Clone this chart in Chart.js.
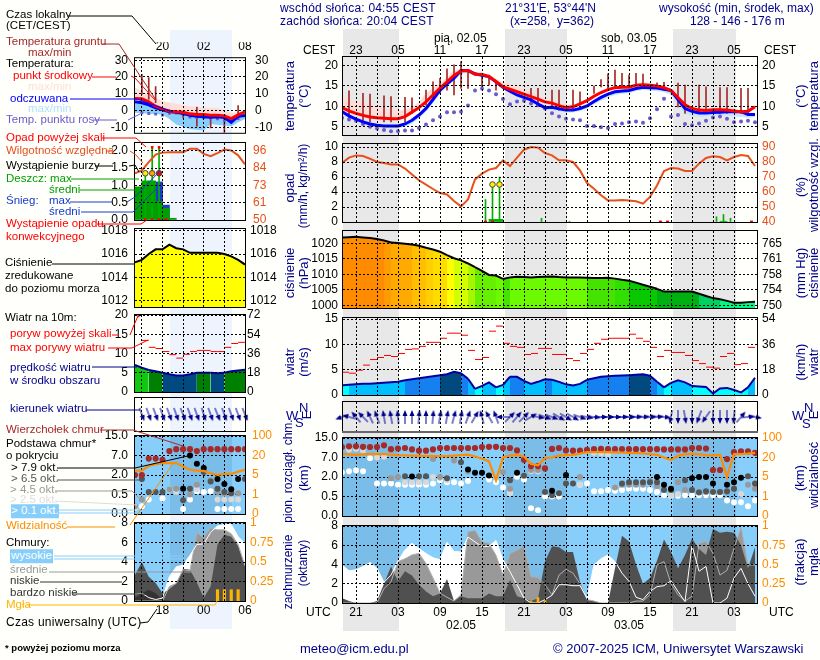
<!DOCTYPE html>
<html lang="pl">
<head>
<meta charset="utf-8">
<title>Meteorogram ICM</title>
<script src="https://cdn.jsdelivr.net/npm/chart.js@4"></script>
<style>
  html, body { margin: 0; padding: 0; background: #fffffc; }
  #page { position: relative; width: 820px; height: 660px; overflow: hidden; font-family: "Liberation Sans", Arial, sans-serif; }
  #page canvas { position: absolute; }
  #page svg { position: absolute; left: 0; top: 0; }
  .band { position: absolute; }
  .txt { position: absolute; white-space: pre; line-height: 1; transform: translateY(-50%); }
  .rot { position: absolute; white-space: pre; line-height: 1; color: #00008b; font-size: 13px; transform: translate(-50%, -50%) rotate(-90deg); }
</style>
</head>
<body>
<div id="page"></div>
<script>
// ---- main meteogram, hourly, first value is 19 UTC ----
const temperature = [9.7,8.9,8.3,7.8,7.4,7.2,7.1,7.0,7.0,7.5,8.6,9.7,11.1,12.8,14.5,16,17.6,18.7,18.8,17.9,17.8,17.3,16.1,14.8,14.2,13.6,13,12.4,11.8,11.1,10.8,10.2,9.7,9.9,10.6,11.4,12.5,13.4,14.1,14.6,14.7,14.7,15.2,15.3,15.2,15,14.6,13.9,12.2,10.4,9.5,9.1,9,9.2,9.2,9.1,8.9,8.7,8.8,9.9];
const temperatureMax = [12.4,11.8,11.1,10.9,10.7,10.2,9.5,9.2,9,9.2,9.9,11,13.2,14.5,15.7,17.2,18.8,19.2,19.2,18.4,18.3,17.9,16.8,15.9,15.5,15,14.4,13.8,13,12,11.5,11,10.5,10.4,11,11.8,12.9,13.8,14.5,15,15.1,15.2,15.6,15.9,15.7,15.4,15,14.3,12.6,10.9,10,9.5,9.4,9.6,9.6,9.4,9.3,9,9.1,10.1];
const feelsLike = [8.7,7.7,6.9,6.2,5.7,5.4,5.2,5.2,5.2,5.7,6.6,7.9,9.5,11.7,14,15.5,16.9,18.8,18.8,18,17.6,17.3,16,14.7,13.7,12.8,12.2,11.6,10.6,9.7,9.8,9.4,9.1,9.1,9.5,10.1,11.2,12.2,13,13.6,13.8,13.9,14.4,14.7,14.6,14.5,14.2,13.9,11.7,9.5,8.8,8.4,8.4,8.5,8.6,8.7,8.7,8.7,8,8];
const feelsLikeMin = [8,7.2,6.3,5.7,5.2,4.8,4.6,4.5,4.6,5,5.8,7,8.7,10.8,13.1,14.8,16.3,17.9,18.2,17.4,17.3,16.8,15.6,14.1,13.2,12.2,11.6,11,10.2,9.1,9.1,8.8,8.5,8.5,8.9,9.5,10.5,11.4,12.2,12.8,13.1,13.2,13.8,14,13.9,13.7,13.5,12.8,10.4,8.2,7.6,7.4,7.5,7.5,7.6,7.8,7.5,7.4,7.2,7.4];
const dewPoint = [7.2,6.8,6.5,5.7,5,4.6,4.2,3.9,3.9,4.1,4.1,4.7,5.6,6.6,7.5,8.6,8.6,8.7,10.2,13.9,14.4,13.9,13,11.8,10.5,11.2,11.4,10.7,10.3,9.5,8.3,7.5,7,6.8,6.6,5.2,5.2,4.9,4.7,5.7,5.8,6.1,6.3,6,7.1,9.3,11.9,7.5,7.9,5.7,5.4,5.8,6.5,7.3,7.5,7,6.1,6.3,6.5,6.1];
const groundRange = [[-1,6.9,13.8],[1,6.2,13.2],[2,6.2,13],[4,6.2,12.6],[5,6.2,12.4],[7,6.2,12.2],[8,8.3,12.1],[10,10.3,14],[11,11.6,16],[12,13.2,16.9],[13,14,19.2],[14,12.8,20.2],[15,14.4,21],[16,14.4,18.9],[18,14.4,18.1],[19,15.2,17.7],[20,14,15.7],[25,10.7,14.4],[26,10,14.4],[28,9.5,14],[29,9.1,14],[31,9.1,14],[32,10.3,13.6],[34,13.2,15],[35,14.8,16.6],[36,13.9,18],[37,14.7,18.9],[38,14.8,18.1],[39,14.7,17.7],[40,15.2,18.1],[41,15.2,17.9],[43,14.4,15.8],[44,14,15.9],[46,9.9,15.7],[47,8.3,15.2],[49,8.3,15.2],[50,8.3,14.8],[52,8.3,14.6],[53,8.3,14.6],[55,8.3,14.4],[56,8.3,14.4]];

const humidity = [79.3,82.9,84.4,84,82.2,80,79.3,78.4,78.4,75.6,71.6,67.8,64.9,62,59.3,58.4,54,50.4,55.1,68.4,72.2,74.9,76,81.1,77.3,82.9,88.2,90,89.6,86,84.4,81.1,81.1,80,74.4,66,62.2,57.8,54.4,54.4,54.7,54.4,53.8,52.2,56.7,64.4,74,76,75.6,74,74,78.9,82.7,83.8,83.3,81.1,83.3,84.7,84,77.3];
const rainMax = [[18.5,3],[19.5,5],[20.5,6],[26.5,0.5],[30.5,0.1],[51.5,0.7],[52.5,1],[53.5,0.5]];
const rainMean = [[19.5,0.35],[20.5,0.35],[52.5,0.1]];
const stormMarks = [[19.5,5],[20.5,5]];
const convectiveMarks = [[18.5,0],[19.5,0],[43.5,0],[44.5,0],[56.5,0]];

const pressure = [1021.9,1022,1022.1,1021.9,1021.7,1021.4,1020.9,1020.3,1020.1,1019.9,1019.6,1019.2,1018.6,1018,1017.3,1016.2,1015.2,1014.5,1013.5,1012.3,1011.1,1009.8,1009.6,1008.5,1009,1009.2,1009.1,1009,1009.1,1009.2,1009.3,1009.1,1009,1009,1009,1008.9,1008.8,1008.8,1008.9,1008.6,1008.2,1007.9,1007.3,1006.6,1006,1005.3,1004.4,1004.4,1004.4,1004.4,1004.4,1003.7,1003,1002.3,1001.9,1001.4,1000.8,1000.8,1001,1001.1];
const pressureStops = [[1021,'#ff8c00'],[1020.5,'#ff9a00'],[1019.5,'#ffaa00'],[1018.8,'#ffbe00'],[1017.8,'#ffd000'],[1016.7,'#ffdc00'],[1015,'#ffff00'],[1014,'#d4ff00'],[1012.5,'#a8f500'],[1009.3,'#66f000'],[1008.95,'#6cfa00'],[1008.5,'#44e400'],[1007.7,'#30e000'],[1004.9,'#08c800'],[1003.9,'#00b010'],[1001.8,'#00d060'],[0,'#00f880']];

const windSpeed = [1.9,2,2.1,2.2,2.2,2.3,2.4,2.5,2.6,2.9,3.1,3.3,3.5,3.7,3.9,4.1,4.6,4.3,3.2,1.2,1.8,2.5,1.5,2,3.6,3.6,2.8,2.2,2.6,3.1,3,2.6,2.1,1.9,2.2,3,3.3,3.6,3.7,3.8,3.85,3.9,4,4.1,3.8,2.6,1.5,2.4,2.9,2.5,1.8,1.7,1.6,0.3,1.3,1.4,1,0.5,1.5,3.4];
const gusts = [4.5,4.3,4.9,5.9,7,7.4,7.8,7.6,8.2,9,9.1,9.6,10.4,10.4,11.2,12.2,12.2,11.8,8.8,7,7.4,12.6,13.6,10.2,9.6,9.4,8,8.2,9.2,9.2,8,8,7.2,6.8,8.2,9,10.2,11,11.2,11.2,11.2,12,11.2,10.6,9.4,7.6,8.8,8.4,8.4,7.8,6.8,6.2,5.5,5.3,7.6,8.2,6,6.2,9.4];
const windTowards = [-110,-75,-40,-45,-25,-20,-10,-10,-5,0,0,5,0,5,10,10,15,10,20,30,-15,-30,-20,-90,45,40,45,60,100,110,110,120,120,120,110,100,95,90,90,90,88,88,85,85,85,85,95,190,180,170,180,200,215,180,180,180,185,40,85,100];

const cloudTop = [11.3,11.6,11.6,11.4,11.3,11.3,12,10.4,10.7,10.9,10.3,9.8,9.8,10.3,10.9,10.9,10.9,10.9,10.9,10.9,11.3,11.4,11.4,10.9,10.9,9.9,6.4,4.8,4.8,4.2,10.5,10.9,9.9,9.8,9.8,10.1,10.4,10.5,10.4,10.4,10.4,10.4,10.4,10.4,10.4,10.4,10.3,10.3,10.3,10.3,10.9,10.9,10.7,3.8,3.8,6.6,9.2,9.5,9.5,8.9];
const baseOver79 = [[8,2.1],[16,3.9],[17,3.1],[18,3.1],[19,2.4],[23,3.1],[28,0.95],[30,2.5],[43,2],[44,1.4],[45,1.1],[48,1.9],[49,2],[50,2],[51,1.5],[53,1.4],[54,1.6],[55,1.95]];
const baseOver65 = [[7,2.2],[9,2.2],[10,2.2],[13,1.9],[15,5.8],[22,1.75],[24,2.3],[27,0.85],[28,0.6],[29,0.75],[30,1.5],[31,1.5],[38,1.5],[39,1.6],[40,1.6],[41,1.6],[42,1.6],[43,1.6],[44,1],[45,1],[47,1.75],[48,1],[49,0.8],[50,0.9],[51,0.85],[52,0.85],[53,0.9],[54,1.1],[56,2.2],[57,1.5]];
const baseOver45 = [[5,1.9],[6,2],[11,6.6],[12,2],[14,6.2],[16,3.5],[21,3.3],[22,1.1],[25,3.8],[26,3.8],[32,2],[37,1.2],[38,1.4],[39,1.4],[40,1.4],[41,1.4],[42,1.7],[43,1.3],[44,1.1],[46,1.6],[47,1],[48,1],[49,0.85],[50,0.85],[52,0.85],[53,0.85],[54,1.1],[56,1.4],[57,1.1]];
const baseOver25 = [[-1,10.2],[0,10.5],[1,9.8],[3,7],[4,7.3],[7,1.6],[8,1.6],[9,1.6],[10,1.6],[11,2],[12,1.9],[13,1.75],[22,0.75],[25,3.5],[26,3.4],[32,1.4],[34,9],[35,8.7],[36,8.2],[45,0.6],[46,0.7],[55,0.7]];
const baseOver01 = [[-2,3.2],[-1,3.5],[0,3.7],[1,3.5],[2,6.8],[3,1.5],[4,1.5],[5,1.5],[6,1.4],[7,1.4],[8,1.4],[9,1.4],[10,1.4],[11,1.5],[12,1.75],[13,1.6],[14,1.6],[15,1.5],[16,1.7],[19,1.8],[20,1.6],[21,1.2],[22,0.75],[23,2.05],[24,1.8],[25,0.2],[26,0.15],[27,0.5],[28,0.5],[29,0.5],[32,1.4],[33,1.5],[34,0.9],[35,0.9],[36,1],[37,0.95],[38,1],[39,1.1],[40,1.1],[41,1.1],[42,1],[43,0.85],[44,0.6],[45,0.55],[46,0.55],[47,0.6],[48,0.6],[49,0.6],[50,0.6],[51,0.6],[52,0.6],[53,0.4],[54,0.35],[55,0.35],[56,0.25],[57,0.4]];
const visibility = [35,33,31,33,35,34,34,32,30,29,28,27,27,26,25.5,26,28,30,32,24,19,17,4.3,20,28,31,24,15,14,19.5,20,28,30,31,36,42,42,42,42,41,40,39,38,37,34,31,20,18,28,33,36,33,30,29,31,5,34,34,36,39];

const cloudHigh = [3.95,3.35,3.45,3.8,4.2,3.6,2.15,2.9,4.4,5.5,6.2,5.65,5.15,4.7,4.5,6.3,5.35,5.3,6.85,6.35,5.85,5.9,6.5,4.5,3.25,1.9,0.5,0,0,0.35,0.8,1.9,1.9,1.8,1.8,0.5,3.95,4.6,5,4.3,3.1,2.25,0.6,0.35,1.2,1.7,1.8,2.3,1.2,0.15,6,3.3,3.8,0,0,0.5,2.6,3.6,2,0.7];
const cloudMid = [0,0,0,0,0,0,1.5,2.2,4.3,4.6,5,5.15,4.1,2.6,1,0.6,0.2,0.85,7.4,7.55,6.35,6.2,4.95,2.9,5.15,5.5,5.9,2.75,2.65,1.9,0.85,2.9,3.5,3.1,2,0.35,0.2,0,0,0,0,0,0.2,0.2,0.85,3.95,4.3,2,0.85,0.2,0.7,6.2,6.4,5.15,2.9,3.4,5.65,7.9,3.95,3.95];
const cloudLow = [0.5,0.2,0,0,0,0.2,2,3.8,2.25,3.3,2.85,1.9,1.2,0.7,1,2.5,0.2,0.7,0.5,0.5,0.5,1,0.7,0.7,2.4,0.7,0.5,0.2,0.5,4.3,5.9,5.8,5.3,5.3,2.2,0.35,0.2,0,0,3.6,7,6.4,4,2,2.6,4.4,6.6,5.3,3.6,5,6.7,5.6,5,7.7,7.3,7.4,7.3,6,3.6,5.8];
const fogFraction = [[25,0.02],[26,0.07],[27,0.03]];

// ---- small panel with the analysis, hourly from 14 UTC ----
const temperatureLeft = [7.2,7,5.2,2.6,1,-0.4,-0.8,-1,-2,-2.4,-2.4,-2.8,-2.8,-3.2,-4.8,-2.6,-0.8];
const temperatureMaxLeft = [13.6,11.6,9.6,7.6,5.6,4.8,4,3.2,2.6,2.1,1.6,1.6,1.6,0.2,-1.4,-1,-0.4];
const feelsLikeLeft = [5.2,4.6,3.4,1.6,0.4,-0.8,-1,-1.8,-2.8,-3.4,-3.8,-4,-3.8,-4.2,-7,-3.4,-3];
const feelsLikeMinLeft = [-1.4,-1.7,-2,-2.2,-2.4,-5,-8.4,-9.6,-11,-11.5,-12,-8,-8.5,-9,-9.4,-7,-5];
const dewPointLeft = [[15,-1.4],[16,-1.8],[17,-2.2],[18,-2.8],[19,-1],[20,-1.6],[21,-2.6],[22,-4],[23,-4.2],[24,-4.2],[25,-4.4],[26,-5],[27,-5.8],[28,-5.8],[29,-4.6]];
const groundRangeLeft = [[15,9.6,21.6],[16,6.6,19.6],[17,4.6,14.2],[19,-2.4,0.6],[21,-4.4,-0.4],[23,-9.4,2],[25,-10.4,-2.4],[27,-13.4,-2.4],[29,-5.4,3]];
const humidityLeft = [81,83,88.5,93.5,94.8,95,95,95,97.3,97.3,94,92.5,94.5,96.8,96.2,93,87];
const rainMeanLeft = [[14.5,0.96],[15.5,1.13],[16.5,1.13],[17.5,0.53],[18.5,0.34],[19.5,0.05]];
const snowMeanLeft = [[17.5,1.1],[18.5,0.43]];
const rainMaxLeft = [[15.5,1.35],[16.5,2.1],[17.5,2.1]];
const stormLeft = [[15.5,1.35],[16.5,1.35],[17.5,1.35]];
const overScaleLeft = [[16.5,2.1],[17.5,2.1]];
const convectiveLeft = [[15.5,0.02],[16.5,0.02],[17.5,0.02],[18.5,0.02]];
const pressureLeft = [1015.3,1015.5,1016,1016.4,1016.4,1016.8,1016.5,1016.4,1016.1,1016.1,1016.1,1016.1,1016.1,1016,1015.8,1015.5,1015.1];
const windSpeedLeft = [7,6.3,5.7,5.4,5,4.6,4.3,4.3,4.6,5,5,4.98,4.88,5,5.4,5.6,5.8];
const gustsLeft = [null,13.4,11.6,11.3,10.5,9.7,8.8,9.8,10.5,10.8,10.8,10.5,10.5,11.6,12.6,12.9];
const gustOverScaleLeft = [[14.5,19.7]];
const windTowardsLeft = [160,160,160,160,160,160,158,160,160,162,160,158,160,160,160,158];
const cloudTopLeft = [2,2,6.2,6.2,5.9,8.8,9.6,9.6,9.6,8.8,9.6,9.6,9.6,9.6,9.6,9.6,9.6];
const baseOver79Left = [[21,0.95],[22,7],[23,4.9],[24,3.8],[26,1.7],[27,1.3],[28,0.9],[29,1.7]];
const baseOver65Left = [[15,1.7],[16,0.7],[17,0.7],[18,0.7],[21,0.35],[22,0.95],[24,2.8],[25,1.5],[26,0.95],[27,0.7],[28,0.6],[30,1.7]];
const baseOver45Left = [[14,0.2],[15,0.37],[19,0.9],[20,0.95],[22,0.5],[23,1.25],[25,1.6],[26,0.7],[27,0.6],[29,0.6]];
const baseOver25Left = [[14,0.15],[20,0.7],[23,0.9],[26,0.37],[27,0.37],[28,0.37],[29,0.37]];
const baseOver01Left = [[15,0.2],[16,0.37],[18,0.4],[19,0.9],[21,0.13],[22,0.37],[23,0.75],[24,0.7],[25,0.75],[26,0.13],[27,0.13],[28,0.13],[29,0.13]];
const visibilityLeft = [8.4,8.4,12,13.4,14.2,14.2,14.2,11.6,9,8.4,8.2,6.3,5,5.8,5.8,7.6,9];
const cloudHighLeft = [0.7,0.8,0.35,0.15,0.3,2.5,3.5,3.7,4.7,5.8,5.85,7.05,7.7,7.85,7.85,6.6,5.9];
const cloudMidLeft = [0,0,0,0,0,1.5,1.8,3.2,3.1,7,6.5,7.5,7.3,7.3,6.9,5.8,3.6];
const cloudLowLeft = [2.7,4,2.5,1.85,0.8,1.2,1.8,3.3,3.2,1.9,0.3,1.5,5.8,6.8,6.6,5.6,3.55];
const cloudVeryLowLeft = [0.3,0.8,1.15,0.8,0.1,0,0,0,0,0,0,0,0,0,0,0,0];
const fogLeft = [[26,0.145],[27,0.145],[28,0.145],[29,0.145]];

// ---- axes ----
const mainHours = temperature.map((_, i) => i - 2);
const mainIntervals = gusts.map((_, i) => i - 1.5);
const leftHours = temperatureLeft.map((_, i) => i + 14);
const leftIntervals = gustsLeft.map((_, i) => i + 14.5);
const windArrowHoursLeft = windTowardsLeft.map((_, i) => i + 15);
const mainGridHours = [0,3,6,9,12,15,18,21,24,27,30,33,36,39,42,45,48,51,54];
const mainLabelHours = [0,6,12,18,24,30,36,42,48,54];
const cestLabels = ['23','05','11','17','23','05','11','17','23','05'];
const utcLabels = ['21','03','09','15','21','03','09','15','21','03'];
const leftGridHours = [15,18,21,24,27,30];
const leftLabelHours = [18,24,30];
const leftLocalLabels = ['20','02','08'];
const leftUtcLabels = ['18','00','06'];
const mainNights = [[-2,6.1],[21.3,30.1],[45.3,54.3]];
const leftNights = [[19.1,28.1]];

const heightStops = [0,0.5,2,7,15];
const visibilityStops = [0,1,5,20,100];
const heightLevels = [0,1,2,3,4];
const heightLabels = ['0.0','0.5','2.0','7.0','15.0'];
const visibilityLabels = ['0','1','5','20','100'];
const oktaTicks = [0,2,4,6,8];
const oktaLabels = ['0','2','4','6','8'];
const fogLabels = ['0','0.25','0.5','0.75','1'];

const NAVY = '#00008b';
const HUMID = '#e8501e';
const ORANGE = '#ff8c00';
const page = document.getElementById('page');
const FONT = '"Liberation Sans", Arial, sans-serif';

// axis positions for log-like scales used by the cloud height panel
function toLevel(v, stops) {
  for (let i = 1; i < stops.length; i++) {
    if (v <= stops[i]) return i - 1 + (v - stops[i - 1]) / (stops[i] - stops[i - 1]);
  }
  return stops.length - 1;
}
const pts = (hours, values) => values.map((v, i) => ({ x: hours[i], y: v }));
const pairs = list => list.map(p => ({ x: p[0], y: p[1] }));
const spans = list => list.map(p => ({ x: p[0], y: [p[1], p[2]] }));
const heightPairs = list => list.map(p => ({ x: p[0], y: toLevel(p[1], heightStops) }));
const zeroBars = list => list.map(p => ({ x: p[0], y: [0, p[1]] }));

function line(data, color, width, extra) {
  return Object.assign({ type: 'line', data, borderColor: color, borderWidth: width, pointRadius: 0, tension: 0, fill: false }, extra);
}
function area(data, color, fill, extra) {
  return Object.assign({ type: 'line', data, borderWidth: 0, backgroundColor: color, pointRadius: 0, tension: 0, fill }, extra);
}
function dots(data, color, radius, extra) {
  return Object.assign({ type: 'line', data, showLine: false, pointRadius: radius, pointBackgroundColor: color, pointBorderWidth: 0, pointStyle: 'circle' }, extra);
}
function bars(data, color, thickness) {
  return { type: 'bar', data, backgroundColor: color, barThickness: thickness, borderWidth: 0, grouped: false };
}
function pressureColor(v) {
  return pressureStops.find(s => v >= s[0])[1];
}
function windColor(v) {
  if (v < 2) return '#00ffff';
  if (v < 3) return '#00bfff';
  if (v < 3.9) return '#1580f0';
  if (v < 4.95) return '#004a80';
  if (v < 6) return '#008000';
  return '#10c810';
}
const meanOf = c => (c.p0.parsed.y + c.p1.parsed.y) / 2;

const panelFrame = {
  id: 'panelFrame',
  beforeDraw(chart, args, opts) {
    const { ctx, chartArea: a, scales } = chart;
    if (!opts.sky) return;
    ctx.save();
    ctx.fillStyle = opts.sky;
    ctx.fillRect(a.left, a.top, a.width, a.height);
    ctx.fillStyle = opts.shade;
    for (const n of opts.nights) {
      const x0 = Math.max(scales.x.getPixelForValue(n[0]), a.left);
      const x1 = Math.min(scales.x.getPixelForValue(n[1]), a.right);
      ctx.fillRect(x0, a.top, x1 - x0, a.height);
    }
    ctx.restore();
  },
  afterDraw(chart, args, opts) {
    const { ctx, chartArea: a } = chart;
    ctx.save();
    ctx.strokeStyle = '#000';
    ctx.lineWidth = 1;
    ctx.strokeRect(a.left - 0.5, a.top - 0.5, a.width + 1, a.height + 1);
    if (opts.foot) {
      ctx.fillStyle = opts.foot;
      ctx.fillRect(a.left - 1, a.bottom - 1, a.width + 2, 2);
    }
    ctx.restore();
  }
};
Chart.register(panelFrame);

const fixedTicks = values => ax => { ax.ticks = values.map(value => ({ value })); };

function panel(o) {
  const left = o.x0 - 45, right = o.x1 + 50, top = o.y0 - 16, bottom = o.y1 + 16;
  const canvas = document.createElement('canvas');
  canvas.width = right - left;
  canvas.height = bottom - top;
  canvas.style.left = left + 'px';
  canvas.style.top = top + 'px';
  page.appendChild(canvas);

  o.datasets.forEach((d, i) => { d.order = o.datasets.length - i; });
  const xLabels = o.xLabels;
  const gridZ = o.gridZ ?? 1;
  new Chart(canvas.getContext('2d'), {
    type: 'line',
    data: { datasets: o.datasets },
    options: {
      responsive: false,
      animation: false,
      events: [],
      devicePixelRatio: 1,
      layout: { padding: { left: 0, right: 0, top: o.xPos === 'top' ? 0 : 16, bottom: o.xPos === 'bottom' ? 0 : 16 } },
      plugins: {
        legend: { display: false },
        tooltip: { enabled: false },
        panelFrame: { sky: o.sky, shade: 'rgba(0,20,60,0.09)', nights: o.nights, foot: o.foot }
      },
      scales: {
        x: {
          type: 'linear', min: o.xMin, max: o.xMax, offset: false,
          position: o.xPos || 'bottom',
          grid: { color: '#000', z: gridZ, drawTicks: false, offset: false },
          border: { display: false, dash: [2, 2] },
          ticks: {
            display: !!xLabels, autoSkip: false, maxRotation: 0, padding: o.xPad ?? 2,
            color: '#000', font: { family: FONT, size: 12 },
            callback: v => {
              const i = o.xLabelHours ? o.xLabelHours.indexOf(v) : -1;
              return i < 0 ? '' : xLabels[i];
            }
          },
          afterBuildTicks: fixedTicks(o.xGrid),
          afterFit: ax => { ax.height = xLabels ? 16 : 0; }
        },
        y: {
          position: 'left', min: o.yMin, max: o.yMax,
          grid: { color: '#000', z: gridZ, drawTicks: false },
          border: { display: false, dash: [2, 2] },
          ticks: {
            autoSkip: false, padding: o.leftPad || 5, color: o.leftColor || '#000',
            font: { family: FONT, size: 12 }, callback: (v, i) => o.yLabels[i]
          },
          afterBuildTicks: fixedTicks(o.yTicks),
          afterFit: ax => { ax.width = 45; }
        },
        y2: {
          position: 'right', min: o.y2Min, max: o.y2Max,
          grid: { display: false, drawTicks: false },
          border: { display: false },
          ticks: {
            autoSkip: false, padding: o.rightPad || 5, color: o.rightColor || '#000',
            font: { family: FONT, size: 12 }, callback: (v, i) => o.y2Labels[i]
          },
          afterBuildTicks: fixedTicks(o.y2Ticks),
          afterFit: ax => { ax.width = 50; }
        }
      }
    }
  });
}

// small arrow sprite, rotated by the point options
function arrowSprite() {
  const c = document.createElement('canvas');
  c.width = 18; c.height = 18;
  const g = c.getContext('2d');
  g.strokeStyle = '#0000a0';
  g.fillStyle = NAVY;
  g.lineWidth = 1;
  g.beginPath(); g.moveTo(9, 16); g.lineTo(9, 4); g.stroke();
  g.beginPath(); g.moveTo(9, 2); g.lineTo(11.5, 8); g.lineTo(6.5, 8); g.closePath(); g.fill();
  return c;
}
const arrow = arrowSprite();

// ---- page furniture under the charts ----
function band(x0, x1, y0, y1, color) {
  const d = document.createElement('div');
  d.className = 'band';
  d.style.cssText = `left:${x0}px;top:${y0}px;width:${x1 - x0}px;height:${y1 - y0}px;background:${color}`;
  page.appendChild(d);
}
band(343, 399, 29, 631, '#e8e8e8');
band(505, 567, 29, 631, '#e8e8e8');
band(673, 736, 29, 631, '#e8e8e8');
band(170, 232, 30, 629, '#eef4fd');

// ---- main column ----
const M = { x0: 343, x1: 757, xMin: -13 / 7, xMax: 401 / 7, xGrid: mainGridHours, nights: mainNights };
const L = { x0: 135, x1: 245, xMin: 14, xMax: 30, xGrid: leftGridHours, nights: leftNights };

function temperaturePanel(base, y0, y1, yMin, yMax, ticks, labels, series, paleBlue, pad) {
  const tempPts = pts(series.hours, series.temp);
  panel(Object.assign({}, base, {
    y0, y1, yMin, yMax, yTicks: ticks, yLabels: labels,
    y2Min: yMin, y2Max: yMax, y2Ticks: ticks, y2Labels: labels, leftPad: pad[0], rightPad: pad[1],
    xPos: 'top', xLabels: series.xLabels, xLabelHours: series.xLabelHours, xPad: series.xPad,
    datasets: [
      area(pts(series.hours, series.max), '#ffdcd8', 5),
      area(pts(series.hours, series.min), paleBlue, 4),
      bars(spans(series.ground), '#a52a2a', series.groundWidth),
      dots(pairs(series.dew), '#6a5acd', series.dewR, { pointStyle: series.dewStyle }),
      line(pts(series.hours, series.feels), '#0000ff', 3),
      line(tempPts, '#ff0000', 3)
    ]
  }));
}

temperaturePanel(M, 57, 135, 3, 22.1, [5,10,15,20], ['5','10','15','20'], {
  hours: mainHours, temp: temperature, max: temperatureMax, feels: feelsLike, min: feelsLikeMin,
  ground: groundRange, dew: dewPoint.map((v, i) => [mainHours[i], v]), dewStyle: 'circle', dewR: 2, groundWidth: 1,
  xLabels: cestLabels, xLabelHours: mainLabelHours, xPad: -1
}, '#c6e6ff', [5, 5]);

panel(Object.assign({}, M, {
  y0: 144, y1: 222, yMin: 0, yMax: 10.4, yTicks: [0,2,4,6,8,10], yLabels: ['0','2','4','6','8','10'],
  y2Min: 40, y2Max: 92, y2Ticks: [40,50,60,70,80,90], y2Labels: ['40','50','60','70','80','90'], rightColor: HUMID,
  datasets: [
    bars(zeroBars(rainMean), '#00b000', 7),
    bars(zeroBars(rainMax), '#00b000', 1),
    line(pts(mainHours, humidity), HUMID, 2, { yAxisID: 'y2' }),
    dots(pairs(stormMarks), '#ffee00', 2.8, { pointBorderWidth: 1, pointBorderColor: '#444' }),
    dots(pairs(convectiveMarks), '#e00000', 2, { pointStyle: 'rect' })
  ]
}));

panel(Object.assign({}, M, {
  y0: 231, y1: 308, yMin: 999.1, yMax: 1024, yTicks: [1000,1005,1010,1015,1020], yLabels: ['1000','1005','1010','1015','1020'],
  y2Min: 999.1, y2Max: 1024, y2Ticks: [1000,1005,1010,1015,1020], y2Labels: ['750','754','758','761','765'],
  datasets: [
    line(pts(mainHours, pressure), '#000', 2, {
      fill: 'start', backgroundColor: '#ffff00',
      segment: { backgroundColor: c => pressureColor(meanOf(c)) }
    })
  ]
}));

panel(Object.assign({}, M, {
  y0: 318, y1: 395, yMin: 0, yMax: 15.2, yTicks: [0,5,10,15], yLabels: ['0','5','10','15'],
  y2Min: 0, y2Max: 15.2, y2Ticks: [0,5,10,15], y2Labels: ['0','18','36','54'],
  datasets: [
    line(pts(mainHours, windSpeed), '#0000a0', 2, {
      fill: 'start', backgroundColor: '#00bfff',
      segment: { backgroundColor: c => windColor(meanOf(c)) }
    }),
    dots(pts(mainIntervals, gusts), '#ff0000', 3.5, { pointStyle: 'line', pointBorderWidth: 1, pointBorderColor: '#ff0000' })
  ]
}));

panel(Object.assign({}, M, {
  y0: 402, y1: 432, yMin: -1, yMax: 1, yTicks: [], yLabels: [], y2Min: -1, y2Max: 1, y2Ticks: [], y2Labels: [], foot: '#666',
  datasets: [
    dots(mainHours.map(h => ({ x: h, y: 0 })), NAVY, 3, { pointStyle: arrow, pointRotation: windTowards, clip: false })
  ]
}));

function heightPanel(base, y0, y1, s, pad) {
  panel(Object.assign({}, base, {
    y0, y1, yMin: 0, yMax: 4, yTicks: heightLevels, yLabels: heightLabels,
    y2Min: 0, y2Max: 4, y2Ticks: heightLevels, y2Labels: visibilityLabels, rightColor: ORANGE,
    leftPad: pad[0], rightPad: pad[1], sky: '#87cefa', gridZ: 0,
    datasets: [
      dots(heightPairs(s.over01), '#ffffff', 3),
      dots(heightPairs(s.over25), '#d8d8d8', 3),
      dots(heightPairs(s.over45), '#999999', 3),
      dots(heightPairs(s.over65), '#555555', 3),
      dots(heightPairs(s.over79), '#000000', 3),
      dots(pts(s.hours, s.tops.map(v => toLevel(v, heightStops))), '#a52a2a', 3.1),
      line(pts(s.hours, s.vis.map(v => toLevel(v, visibilityStops))), ORANGE, 2.2)
    ]
  }));
}
heightPanel(M, 438, 516, {
  hours: mainHours, tops: cloudTop, vis: visibility,
  over79: baseOver79, over65: baseOver65, over45: baseOver45, over25: baseOver25, over01: baseOver01
}, [5, 5]);

function cloudPanel(base, y0, y1, s, pad) {
  const sets = [
    area(pts(s.hours, s.high), '#ffffff', 'start'),
    area(pts(s.hours, s.mid), '#999999', 'start'),
    area(pts(s.hours, s.low), '#505050', 'start')
  ];
  if (s.veryLow) sets.push(area(pts(s.hours, s.veryLow), '#333333', 'start'));
  sets.push(line(pts(s.hours, s.mid), '#b0b0b0', 1));
  sets.push(line(pts(s.hours, s.high), '#ffffff', 1));
  sets.push(bars(zeroBars(s.fog), '#ffb400', s.fogWidth));
  sets[sets.length - 1].yAxisID = 'y2';
  panel(Object.assign({}, base, {
    y0, y1, yMin: 0, yMax: 8, yTicks: oktaTicks, yLabels: oktaLabels,
    y2Min: 0, y2Max: 1, y2Ticks: [0,0.25,0.5,0.75,1], y2Labels: fogLabels, rightColor: ORANGE,
    leftPad: pad[0], rightPad: pad[1], sky: '#87cefa',
    xPos: 'bottom', xLabels: s.xLabels, xLabelHours: s.xLabelHours, xPad: 2,
    datasets: sets
  }));
}
cloudPanel(M, 526, 603, {
  hours: mainHours, high: cloudHigh, mid: cloudMid, low: cloudLow, fog: fogFraction, fogWidth: 2,
  xLabels: utcLabels, xLabelHours: mainLabelHours
}, [5, 5]);

// ---- left column ----
temperaturePanel(L, 57, 134, -13.3, 31.2, [-10,0,10,20,30], ['-10','0','10','20','30'], {
  hours: leftHours, temp: temperatureLeft, max: temperatureMaxLeft, feels: feelsLikeLeft, min: feelsLikeMinLeft,
  ground: groundRangeLeft, dew: dewPointLeft, dewStyle: 'rect', dewR: 2, groundWidth: 1,
  xLabels: leftLocalLabels, xLabelHours: leftLabelHours, xPad: 4
}, '#87cefa', [7, 10]);

panel(Object.assign({}, L, {
  y0: 143, y1: 220, yMin: 0, yMax: 2.225, yTicks: [0,0.5,1,1.5,2], yLabels: ['0.0','0.5','1.0','1.5','2.0'],
  y2Min: 50, y2Max: 101.2, y2Ticks: [50,61.5,73,84.5,96], y2Labels: ['50','61','73','84','96'], rightColor: HUMID,
  leftPad: 7, rightPad: 8,
  datasets: [
    bars(zeroBars(snowMeanLeft), '#1a3cc8', 7),
    bars(zeroBars(rainMeanLeft), '#00a000', 7),
    bars(zeroBars(rainMaxLeft), '#00b000', 1),
    line(pts(leftHours, humidityLeft), HUMID, 2, { yAxisID: 'y2' }),
    dots(pairs(stormLeft), ['#ffee00','#ffa500','#ff0000'], 2.8, { pointBorderWidth: 1, pointBorderColor: '#444' }),
    dots(pairs(overScaleLeft), '#ff0000', 1.8, { pointStyle: 'rect' }),
    dots(pairs(convectiveLeft), '#ff0000', 1.8, { pointStyle: 'rect' })
  ]
}));

panel(Object.assign({}, L, {
  y0: 229, y1: 307, yMin: 1011.47, yMax: 1018.14, yTicks: [1012,1014,1016,1018], yLabels: ['1012','1014','1016','1018'],
  y2Min: 1011.47, y2Max: 1018.14, y2Ticks: [1012,1014,1016,1018], y2Labels: ['1012','1014','1016','1018'], leftPad: 7, rightPad: 5,
  datasets: [
    line(pts(leftHours, pressureLeft), '#000', 2, {
      fill: 'start', backgroundColor: '#ffff00',
      segment: { backgroundColor: c => pressureColor(meanOf(c)) }
    })
  ]
}));

panel(Object.assign({}, L, {
  y0: 315, y1: 392, yMin: 0, yMax: 20, yTicks: [0,5,10,15,20], yLabels: ['0','5','10','15','20'],
  y2Min: 0, y2Max: 20, y2Ticks: [0,5,10,15,20], y2Labels: ['0','18','36','54','72'], leftPad: 7, rightPad: 2,
  datasets: [
    line(pts(leftHours, windSpeedLeft), '#0000a0', 2, {
      fill: 'start', backgroundColor: '#008000',
      segment: { backgroundColor: c => windColor(meanOf(c)) }
    }),
    dots(pts(leftIntervals, gustsLeft), '#ff0000', 3.4, { pointStyle: 'line', pointBorderWidth: 1, pointBorderColor: '#ff0000' }),
    dots(pairs(gustOverScaleLeft), '#ff0000', 1.5, { pointStyle: 'rect' })
  ]
}));

panel(Object.assign({}, L, {
  y0: 398, y1: 431, yMin: -1, yMax: 1, yTicks: [], yLabels: [], y2Min: -1, y2Max: 1, y2Ticks: [], y2Labels: [],
  datasets: [
    dots(windArrowHoursLeft.map(h => ({ x: h, y: 0 })), NAVY, 3, { pointStyle: arrow, pointRotation: windTowardsLeft, clip: false })
  ]
}));

heightPanel(L, 436, 514, {
  hours: leftHours, tops: cloudTopLeft, vis: visibilityLeft,
  over79: baseOver79Left, over65: baseOver65Left, over45: baseOver45Left, over25: baseOver25Left, over01: baseOver01Left
}, [7, 7]);

cloudPanel(L, 523, 601, {
  hours: leftHours, high: cloudHighLeft, mid: cloudMidLeft, low: cloudLowLeft, veryLow: cloudVeryLowLeft, fog: fogLeft, fogWidth: 2.5,
  xLabels: leftUtcLabels, xLabelHours: leftLabelHours
}, [7, 5]);

// ---- leader lines of the legend ----
const leaders = [
  ['#000', '68,16 132,16 156,44'],
  ['#a52a2a', '102,44 119,44 156,100'],
  ['#f00', '92,77 116,77'], ['#f00', '131,76 135,78 155,100'],
  ['#0000ff', '70,99 137,99 173,112'],
  ['#6a5acd', '93,120 117,120'], ['#6a5acd', '128,120 140,114'],
  ['#f00', '102,138 136,138 146,147'],
  [HUMID, '106,151 112,151'], [HUMID, '130,151 136,155 143,163'],
  ['#000', '95,166 113,166'], ['#000', '129,166 135,165 139,172'],
  ['#00a000', '71,179 139,179'],
  ['#00a000', '80,190 137,190'],
  ['#1a3cc8', '70,202 112,202'], ['#1a3cc8', '127,202 135,197 160,171'],
  ['#1a3cc8', '81,212 133,212 158,187'],
  ['#f00', '97,224 141,224 147,220'],
  ['#000', '52,264 135,264'],
  ['#f00', '112,335 119,335'], ['#f00', '130,335 134,325 138,316'],
  ['#f00', '108,348 132,348 148,340'],
  [NAVY, '92,367 137,367'],
  [NAVY, '86,410 140,410'],
  ['#a52a2a', '100,430 133,430 183,446'],
  ['#000', '57,468 135,468 192,455'],
  ['#555', '57,480 143,480'],
  ['#999', '55,491 132,491 143,502'],
  ['#ddd', '55,501 137,505'],
  ['#87cefa', '57,510 135,510'], ['#87cefa', '57,513 135,513'],
  [ORANGE, '67,527 115,527'], [ORANGE, '130,525 172,465'],
  ['#87cefa', '54,556 185,556'], ['#87cefa', '54,559 185,559'],
  ['#999', '49,572 193,572'],
  ['#333', '40,582 122,582'], ['#333', '134,582 137,582'],
  ['#333', '73,594 150,594'],
  ['#ffb400', '27,605 215,605 219,597'],
  ['#000', '140,623 148,622 157,609']
];
const NS = 'http://www.w3.org/2000/svg';
const svg = document.createElementNS(NS, 'svg');
svg.setAttribute('width', 820);
svg.setAttribute('height', 660);
for (const l of leaders) {
  const p = document.createElementNS(NS, 'polyline');
  p.setAttribute('points', l[1]);
  p.setAttribute('fill', 'none');
  p.setAttribute('stroke', l[0]);
  p.setAttribute('stroke-width', 1);
  svg.appendChild(p);
}
page.appendChild(svg);

// ---- texts ----
function text(str, x, y, color, size, extra) {
  const s = document.createElement('span');
  s.className = 'txt';
  s.textContent = str;
  s.style.cssText = `left:${x}px;top:${y}px;color:${color || '#000'};font-size:${size || 11.5}px;${extra || ''}`;
  page.appendChild(s);
}
function rotated(str, x, y, size) {
  const s = document.createElement('span');
  s.className = 'rot';
  s.textContent = str;
  s.style.left = x + 'px';
  s.style.top = y + 'px';
  if (size) s.style.fontSize = size + 'px';
  page.appendChild(s);
}

text('Czas lokalny', 6, 15, '#000');
text('(CET/CEST)', 6, 26, '#000');
text('Temperatura gruntu', 6, 42, '#a52a2a');
text('max/min', 28, 53, '#a52a2a');
text('Temperatura:', 6, 64, '#000');
text('punkt środkowy', 13, 76, '#f00');
text('max/min', 28, 87, '#fde0d0');
text('odczuwana', 10, 98.5, '#0000ff');
text('max/min', 28, 109, '#b0e0ff');
text('Temp. punktu rosy', 6, 120, '#6a5acd');
text('Opad powyżej skali', 6, 138, '#f00');
text('Wilgotność względna', 6, 151, HUMID);
text('Wystąpienie burzy', 6, 166, '#000');
text('Deszcz:', 6, 179, '#00a000');
text('max', 50, 179, '#00a000');
text('średni', 49, 190, '#00a000');
text('Śnieg:', 6, 201, '#1a3cc8');
text('max', 49, 201, '#1a3cc8');
text('średni', 49, 212, '#1a3cc8');
text('Wystąpienie opadu', 6, 224, '#f00');
text('konwekcyjnego', 6, 237, '#f00');
text('Ciśnienie', 5, 263, '#000');
text('zredukowane', 5, 276, '#000');
text('do poziomu morza', 5, 289, '#000');
text('Wiatr na 10m:', 5, 318, '#000');
text('poryw powyżej skali', 10, 334, '#f00');
text('max porywy wiatru', 10, 348, '#f00');
text('prędkość wiatru', 10, 368, NAVY);
text('w środku obszaru', 10, 381, NAVY);
text('kierunek wiatru', 10, 409, NAVY);
text('Wierzchołek chmur', 6, 430, '#a52a2a');
text('Podstawa chmur*', 6, 444, '#000');
text('o pokryciu', 6, 456, '#000');
text('> 7.9 okt.', 11, 468, '#000');
text('> 6.5 okt.', 11, 479, '#555');
text('> 4.5 okt.', 10, 490, '#999');
text('> 2.5 okt.', 10, 500, '#ddd');
text('> 0.1 okt.', 11, 511, '#fff', 11.5, 'background:#87cefa;padding:1px 0;');
text('Widzialność', 6, 526, ORANGE);
text('Chmury:', 6, 543, '#000');
text('wysokie', 10, 556, '#fff', 11.5, 'background:#87cefa;padding:1px 1px;');
text('średnie', 10, 570, '#999');
text('niskie', 10, 581, '#333');
text('bardzo niskie', 10, 593, '#333');
text('Mgła', 6, 605, '#ffb400');
text('Czas uniwersalny (UTC)', 6, 622, '#000', 12, 'letter-spacing:0.25px;');
text('* powyżej poziomu morza', 5, 648, '#000', 9.5, 'font-weight:bold;');

text('wschód słońca: 04:55 CEST', 280, 8, NAVY, 12, 'letter-spacing:0.2px;');
text('zachód słońca: 20:04 CEST', 280, 21, NAVY, 12, 'letter-spacing:0.2px;');
text("21°31'E, 53°44'N", 505, 8, NAVY, 12);
text('(x=258,  y=362)', 510, 21, NAVY, 12);
text('wysokość (min, środek, max)', 659, 8, NAVY, 12);
text('128 - 146 - 176 m', 690, 21, NAVY, 12);
text('pią, 02.05', 434, 38, '#000', 12);
text('sob, 03.05', 601, 38, '#000', 12);
text('CEST', 303, 50, '#000', 12);
text('CEST', 764, 50, '#000', 12);
text('UTC', 306, 612, '#000', 12);
text('UTC', 769, 612, '#000', 12);
text('02.05', 446, 625, '#000', 12);
text('03.05', 614, 625, '#000', 12);
text('meteo@icm.edu.pl', 300, 648, NAVY, 13);
text('© 2007-2025 ICM, Uniwersytet Warszawski', 553, 648, NAVY, 13);

rotated('temperatura', 289, 96);
rotated('(°C)', 303, 96);
rotated('opad', 289, 188);
rotated('(mm/h, kg/m²/h)', 303, 186, 12);
rotated('ciśnienie', 289, 273);
rotated('(hPa)', 303, 273);
rotated('wiatr', 289, 362);
rotated('(m/s)', 303, 362);
rotated('pion. rozciągł. chm.', 288, 471, 12);
rotated('(km)', 303, 478);
rotated('zachmurzenie', 288, 572, 12);
rotated('(oktanty)', 303, 563, 12);

rotated('(°C)', 800, 96);
rotated('temperatura', 813, 96);
rotated('(%)', 800, 187);
rotated('wilgotność wzgl.', 813, 185);
rotated('(mm Hg)', 800, 273);
rotated('ciśnienie', 813, 273);
rotated('(km/h)', 800, 362);
rotated('wiatr', 813, 362);
rotated('(km)', 799, 478);
rotated('widzialność', 813, 475);
rotated('(frakcja)', 799, 562);
rotated('mgła', 813, 562);

// compass letters
text('W', 286, 415, NAVY, 13);
text('N', 299, 407, NAVY, 13);
text('S', 295, 422, NAVY, 13);
text('E', 302, 415, NAVY, 13, 'transform:translateY(-50%) rotate(-90deg);');
text('W', 792, 415, NAVY, 13);
text('N', 804, 407, NAVY, 13);
text('S', 802, 423, NAVY, 13);
text('E', 809, 415, NAVY, 13, 'transform:translateY(-50%) rotate(-90deg);');
</script>
</body>
</html>
